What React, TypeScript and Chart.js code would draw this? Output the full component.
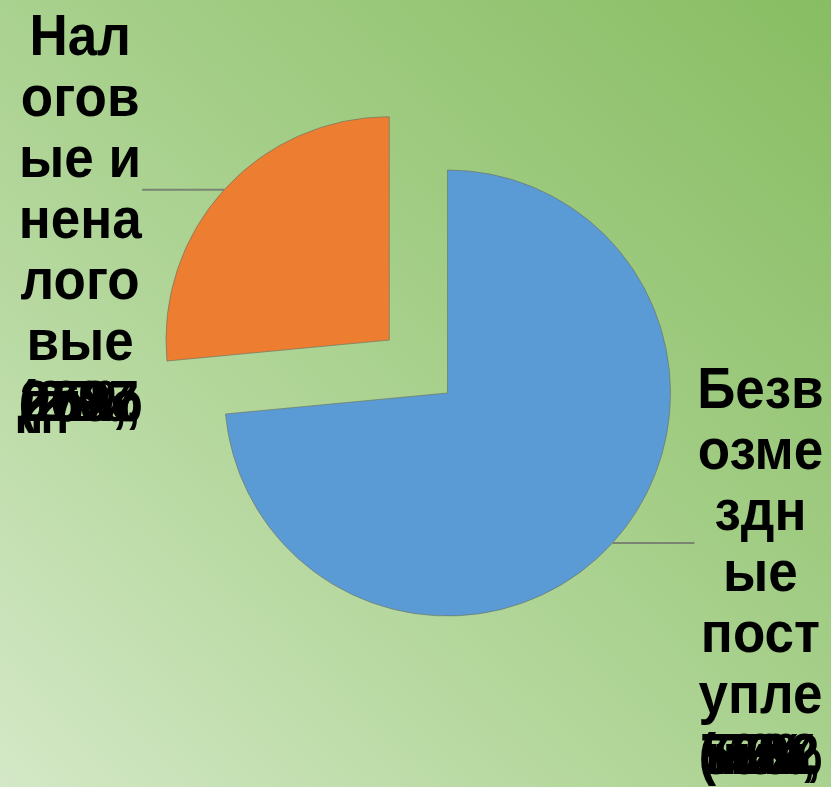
import React, { useEffect, useRef } from "react";
import { Chart, registerables } from "chart.js";

Chart.register(...registerables);

const categories = ["Безвозмездные поступления", "Налоговые и неналоговые доходы"];
const values = [7350, 2650];
const colors = ["#5B9BD5", "#ED7D31"];
const explode = [0, 79];

const labelLines = [
  ["Безв", "озме", "здн", "ые", "пост", "упле"],
  ["Нал", "огов", "ые и", "нена", "лого", "вые"],
];
const overlapLines = [
  ["ния,", "5702", "(73%", "73%,", "ния"],
  ["дохо", "ды,", "2687", "(27%", "27%,"],
];

const total = values.reduce((a, b) => a + b, 0);
// Chart.js translates an arc by offset/4 * (1 + fix); invert so the slice moves `explode` px
const arcOffsets = values.map((v, i) => {
  const circ = (v / total) * Math.PI * 2;
  const fix = 1 - Math.sin(Math.min(Math.PI, circ));
  return explode[i] ? (explode[i] * 4) / (1 + fix) : 0;
});

const labelPlugin = {
  id: "excelLabels",
  afterDraw(chart: any) {
    const ctx = chart.ctx;
    const meta = chart.getDatasetMeta(0);
    ctx.save();
    meta.data.forEach((arc: any, i: number) => {
      const p = arc.getProps(["x", "y", "startAngle", "endAngle", "outerRadius"], true);
      const mid = (p.startAngle + p.endAngle) / 2;
      const off = explode[i] || 0;
      const cx = p.x + Math.cos(mid) * off;
      const cy = p.y + Math.sin(mid) * off;
      const ex = cx + Math.cos(mid) * p.outerRadius;
      const ey = cy + Math.sin(mid) * p.outerRadius;
      const right = Math.cos(mid) >= 0;
      const lx = ex + (right ? 1 : -1) * 82;
      ctx.strokeStyle = "#7a8472";
      ctx.lineWidth = 2;
      ctx.beginPath();
      ctx.moveTo(ex, ey);
      ctx.lineTo(lx, ey);
      ctx.stroke();
      const tx = lx + (right ? 66 : -62);
      const top = ey - 135;
      const lh = 61;
      ctx.fillStyle = "#000";
      ctx.font = 'bold 57px "Liberation Sans", Arial, sans-serif';
      ctx.textAlign = "center";
      ctx.textBaseline = "alphabetic";
      const draw = (t: string, y: number) => {
        ctx.save();
        ctx.translate(tx, y);
        ctx.scale(0.93, 1);
        ctx.fillText(t, 0, 0);
        ctx.restore();
      };
      labelLines[i].forEach((t, k) => draw(t, top + k * lh));
      const last = top + labelLines[i].length * lh;
      overlapLines[i].forEach((t) => draw(t, last));
    });
    ctx.restore();
  },
};

export default function App() {
  const ref = useRef<HTMLCanvasElement>(null);
  useEffect(() => {
    const chart = new Chart(ref.current!, {
      type: "pie",
      data: {
        labels: categories,
        datasets: [
          {
            data: values,
            backgroundColor: colors,
            borderColor: "rgba(110,120,100,0.7)",
            borderWidth: 1,
            offset: arcOffsets,
            radius: 223,
          } as any,
        ],
      },
      options: {
        responsive: false,
        animation: false,
        devicePixelRatio: 1,
        layout: { padding: { left: 64, right: 0, top: 0, bottom: 1 } },
        plugins: { legend: { display: false }, tooltip: { enabled: false } },
      },
      plugins: [labelPlugin],
    });
    return () => chart.destroy();
  }, []);
  return (
    <div
      style={{
        position: "fixed",
        left: 0,
        top: 0,
        width: 831,
        height: 787,
        background:
          "linear-gradient(to top right, #d4e8c7 0%, #b9daa3 30%, #a2cd85 60%, #88bd62 100%)",
      }}
    >
      <canvas ref={ref} width={831} height={787} style={{ display: "block" }} />
    </div>
  );
}
